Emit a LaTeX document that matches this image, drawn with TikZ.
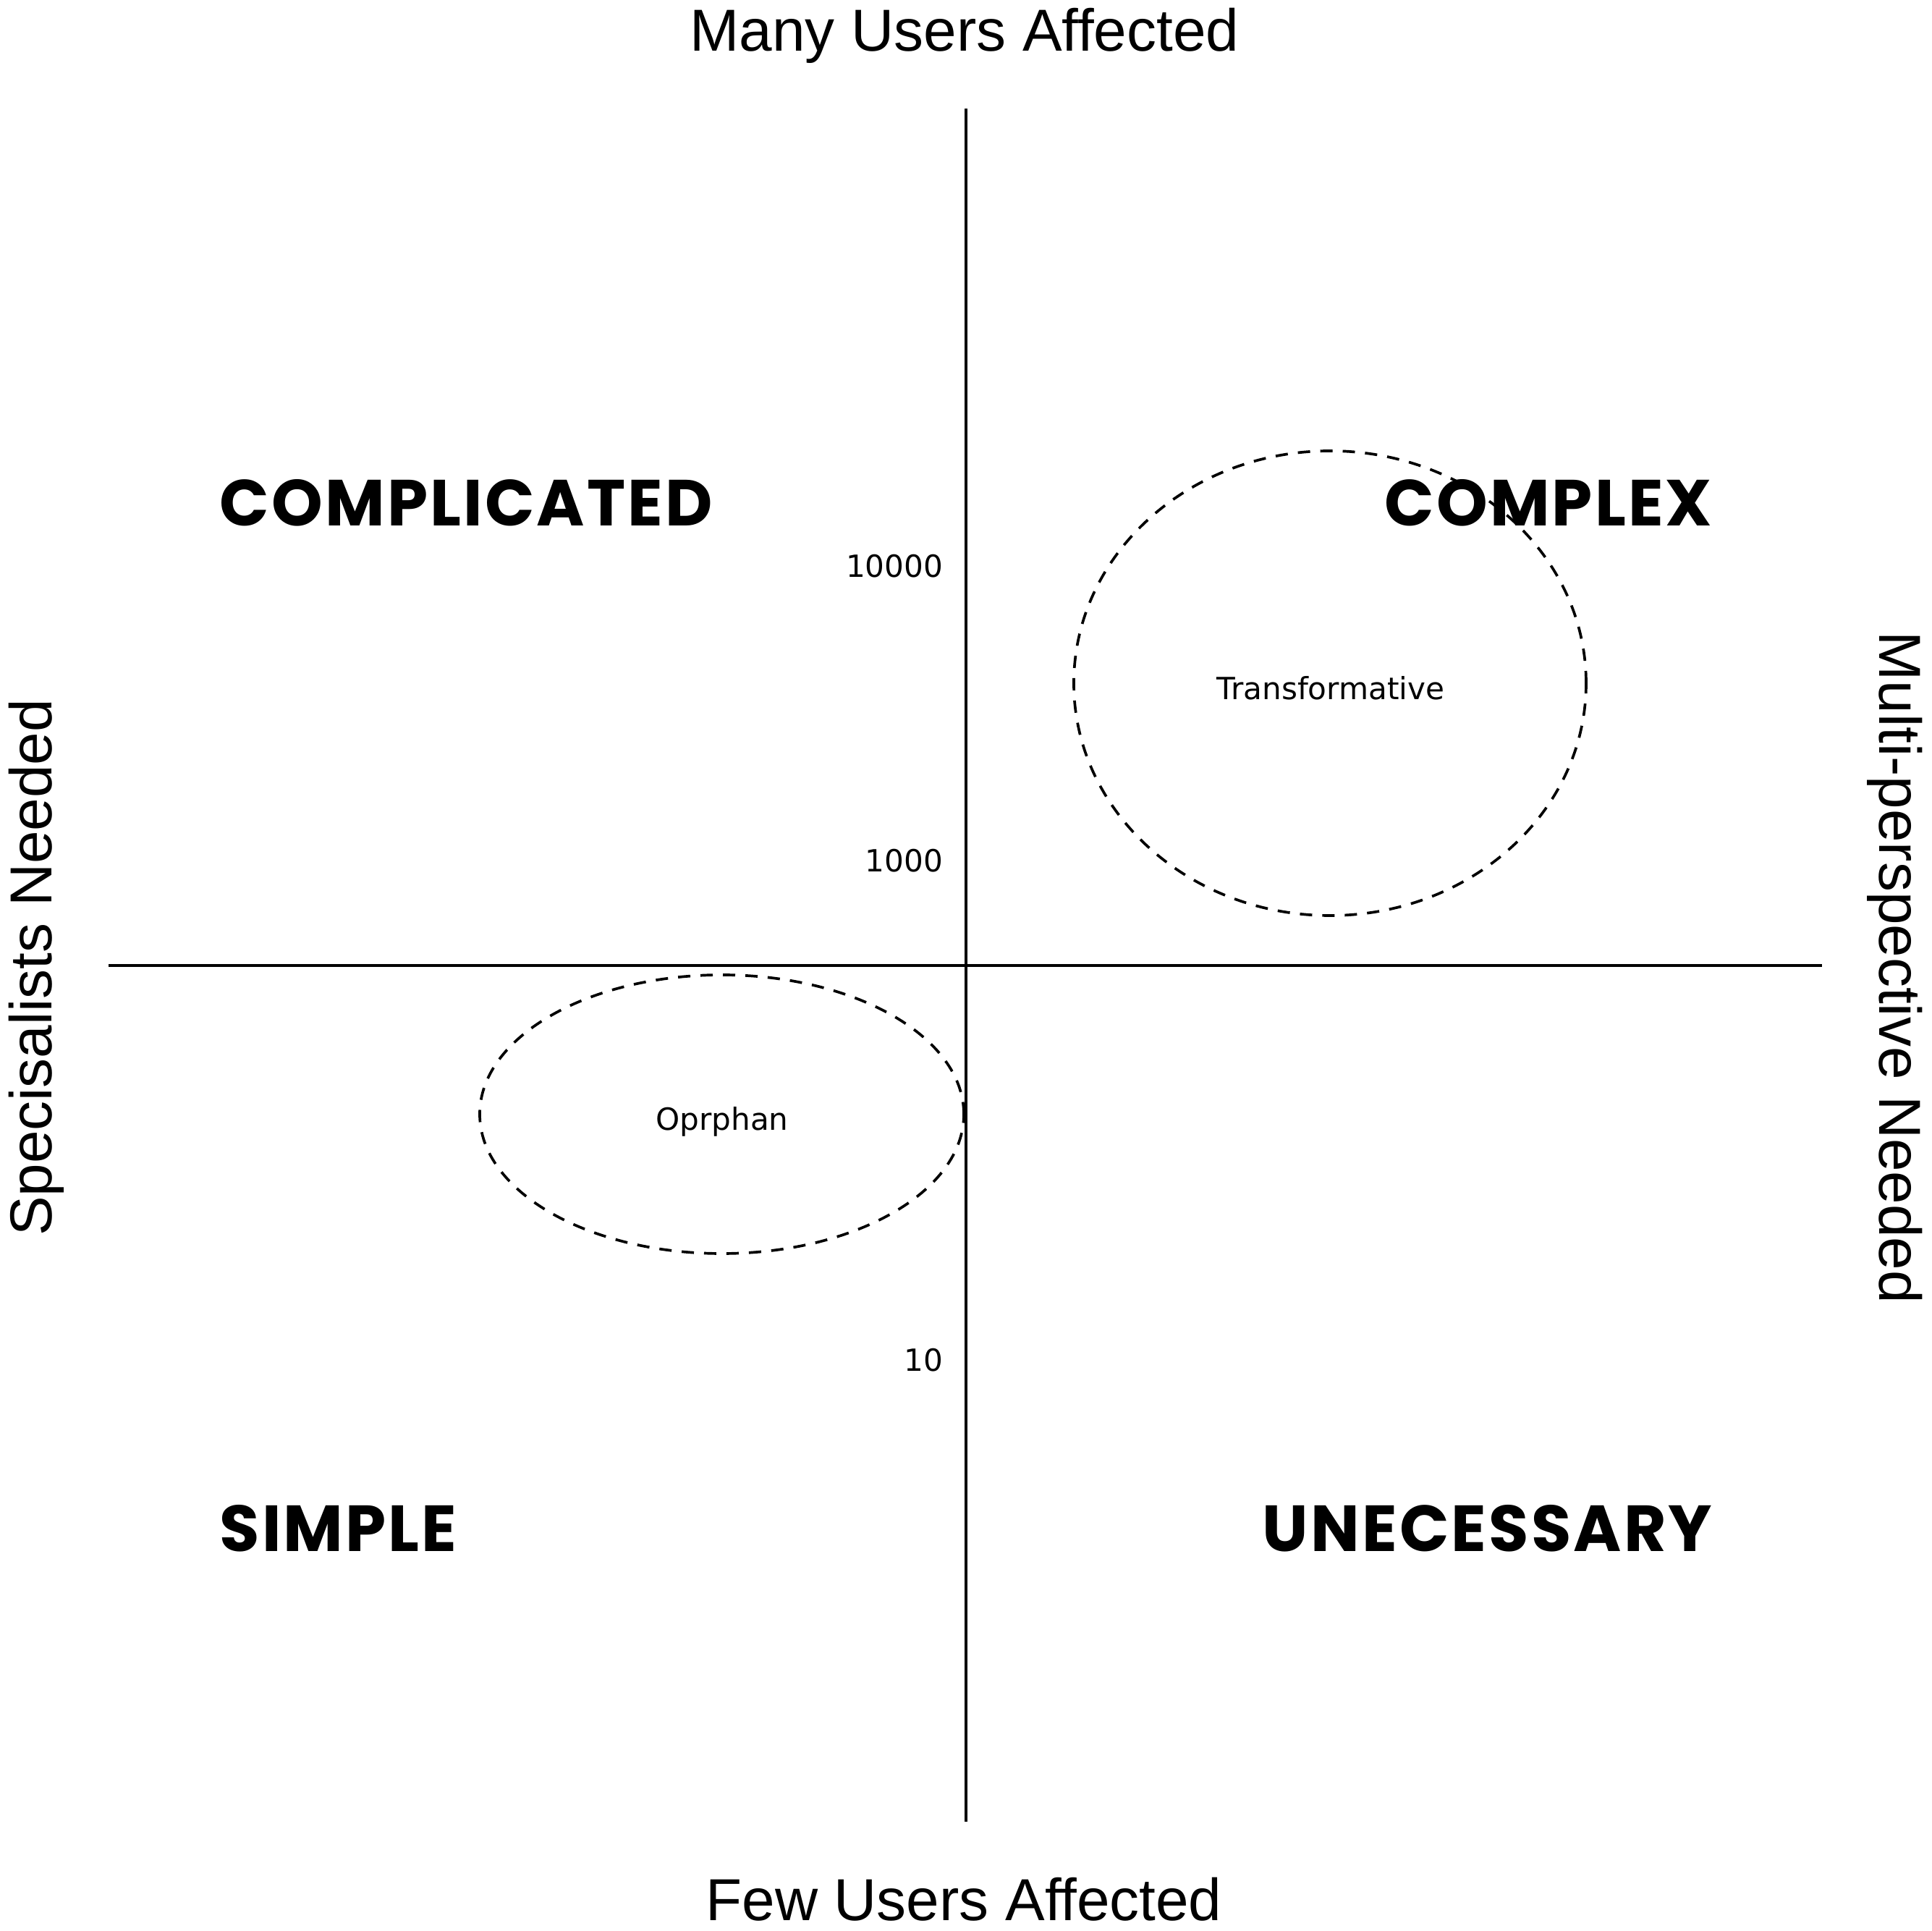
\documentclass[tikz,border=0pt]{standalone}
\usepackage{fontspec}
\setmainfont{Liberation Sans}
\newfontfamily\labelfont{DejaVu Sans}
\newfontfamily\quadrantfont{Poppins}[LetterSpace=3.5]
\usetikzlibrary{positioning}

\begin{document}
\begin{tikzpicture}[x=1cm,y=1cm,
  axisline/.style={line width=1.15pt},
  bubble/.style={line width=1.05pt,dash pattern=on 0.17cm off 0.14cm},
  sidelabel/.style={font=\fontsize{23.3}{27}\selectfont,inner sep=0pt,anchor=base},
  quadrant/.style={font=\quadrantfont\bfseries\fontsize{25.6}{30}\selectfont,inner sep=0pt},
  ticklabel/.style={font=\labelfont\fontsize{12}{14}\selectfont,inner sep=0pt,anchor=base east},
  bubblelabel/.style={font=\labelfont\fontsize{12}{14}\selectfont,inner sep=0pt,anchor=base}]
  \fill[white] (-13.35,-13.34) rectangle (13.35,13.34);
  \useasboundingbox (-13.35,-13.34) rectangle (13.35,13.34);

  \coordinate (left) at (-11.85,0);
  \coordinate (right) at (11.83,0);
  \coordinate (top) at (0,11.84);
  \coordinate (bottom) at (0,-11.83);
  \draw[axisline] (left) -- (right);
  \draw[axisline] (top) -- (bottom);

  \node[sidelabel] (many) at (-0.02,12.63) {Many Users Affected};
  \node[sidelabel] (few) at (-0.03,-13.19) {Few Users Affected};
  \node[sidelabel,rotate=90] (specialists) at (-12.63,-0.03) {Specisalists Needed};
  \node[sidelabel,rotate=-90] (multi) at (12.62,-0.03) {Multi-perspective Needed};

  \node[quadrant,anchor=west] (complicated) at (-10.32,6.39) {COMPLICATED};
  \node[quadrant,anchor=east] (complex) at (10.32,6.39) {COMPLEX};
  \node[quadrant,anchor=west] (simple) at (-10.32,-7.78) {SIMPLE};
  \node[quadrant,anchor=east] (unecessary) at (10.32,-7.78) {UNECESSARY};

  \node[ticklabel] (t10000) at (-0.31,5.36) {10000};
  \node[ticklabel] (t1000) at (-0.31,1.29) {1000};
  \node[ticklabel] (t10) at (-0.31,-5.61) {10};

  \draw[bubble] (5.03,3.90) ellipse [x radius=3.54, y radius=3.21];
  \node[bubblelabel] (transformative) at (5.04,3.67) {Transformative};
  \draw[bubble] (-3.375,-2.055) ellipse [x radius=3.345, y radius=1.925];
  \node[bubblelabel] (oprphan) at (-3.37,-2.28) {Oprphan};
\end{tikzpicture}
\end{document}
